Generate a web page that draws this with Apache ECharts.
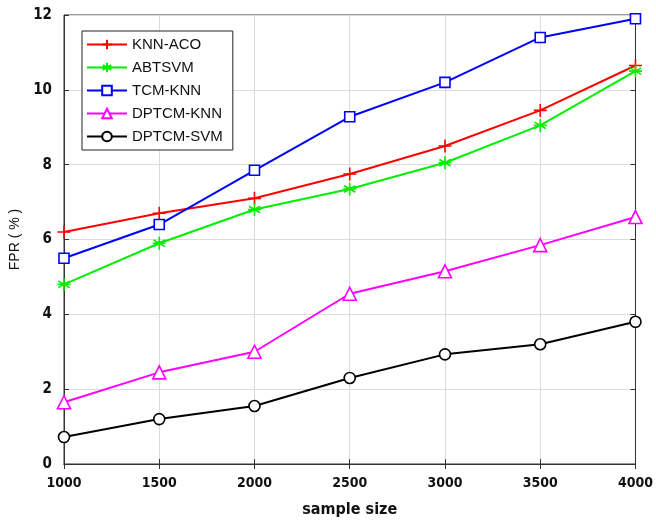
<!DOCTYPE html>
<html>
<head>
<meta charset="utf-8">
<script src="https://cdn.jsdelivr.net/npm/echarts@6/dist/echarts.min.js"></script>
<style>
  html, body { margin: 0; padding: 0; background: #fff; }
  #chart { width: 656px; height: 523px; }
</style>
</head>
<body>
<div id="chart"></div>
<script>
// Sample sizes on the x axis
const sampleSizes = [1000, 1500, 2000, 2500, 3000, 3500, 4000];

// FPR (%) for each method
const knnAco   = [6.2, 6.7, 7.1, 7.75, 8.5, 9.45, 10.65];
const abtsvm   = [4.8, 5.9, 6.8, 7.35, 8.05, 9.05, 10.5];
const tcmKnn   = [5.5, 6.4, 7.85, 9.28, 10.2, 11.4, 11.9];
const dptcmKnn = [1.65, 2.45, 3.0, 4.55, 5.15, 5.85, 6.6];
const dptcmSvm = [0.72, 1.2, 1.55, 2.3, 2.93, 3.2, 3.8];

const seriesNames = ['KNN-ACO', 'ABTSVM', 'TCM-KNN', 'DPTCM-KNN', 'DPTCM-SVM'];

const plusPath = 'path://M0,-1L0,1M-1,0L1,0';
const starPath = 'path://M0,-1L0,1M-0.87,-0.5L0.87,0.5M-0.87,0.5L0.87,-0.5M-1,0L1,0';

const tickFont = {
  fontFamily: '"DejaVu Sans Condensed", "Liberation Sans Narrow", sans-serif',
  fontWeight: 'bold',
  fontSize: 14,
  color: '#111'
};

function makeSeries(name, values, color, symbol, size, hollow) {
  return {
    name: name,
    type: 'line',
    data: sampleSizes.map((x, i) => [x, values[i]]),
    symbol: symbol,
    symbolSize: size,
    showAllSymbol: true,
    lineStyle: { color: color, width: 2 },
    itemStyle: {
      color: hollow ? '#fff' : color,
      borderColor: color,
      borderWidth: 1.6
    },
    emphasis: { disabled: true },
    animation: false,
    z: 3
  };
}

const chart = echarts.init(document.getElementById('chart'), null, { renderer: 'canvas' });

chart.setOption({
  backgroundColor: '#fff',
  animation: false,
  grid: {
    left: 64, right: 18, top: 15, bottom: 57,
    show: true, borderColor: '#333', borderWidth: 1
  },
  legend: {
    orient: 'vertical',
    left: 82, top: 31,
    itemWidth: 40, itemHeight: 12,
    itemGap: 8,
    padding: [6, 10, 6, 4],
    borderColor: '#222', borderWidth: 1,
    backgroundColor: '#fff',
    textStyle: { fontFamily: 'Liberation Sans, Arial, sans-serif', fontSize: 15, color: '#111' },
    data: seriesNames
  },
  xAxis: [{
    type: 'value',
    min: 1000, max: 4000, interval: 500,
    name: 'sample size',
    nameLocation: 'middle',
    nameGap: 38,
    nameTextStyle: Object.assign({}, tickFont, { fontSize: 16 }),
    axisLine: { show: true, lineStyle: { color: '#333' } },
    axisTick: { show: true, inside: true, length: 5, lineStyle: { color: '#333' } },
    axisLabel: Object.assign({ margin: 12, formatter: v => String(v) }, tickFont),
    splitLine: { show: true, lineStyle: { color: '#dcdcdc', width: 1 } }
  }, {
    type: 'value', position: 'top',
    min: 1000, max: 4000, interval: 500,
    axisLine: { show: true, lineStyle: { color: '#333' } },
    axisTick: { show: true, inside: true, length: 5, lineStyle: { color: '#333' } },
    axisLabel: { show: false },
    splitLine: { show: false }
  }],
  yAxis: [{
    type: 'value',
    min: 0, max: 12, interval: 2,
    name: 'FPR ( % )',
    nameLocation: 'middle',
    nameGap: 40,
    nameTextStyle: { fontFamily: 'Liberation Sans, Arial, sans-serif', fontSize: 14, color: '#111' },
    axisLine: { show: true, lineStyle: { color: '#333' } },
    axisTick: { show: true, inside: true, length: 5, lineStyle: { color: '#333' } },
    axisLabel: Object.assign({ margin: 12 }, tickFont, { fontSize: 15 }),
    splitLine: { show: true, lineStyle: { color: '#dcdcdc', width: 1 } }
  }, {
    type: 'value', position: 'right',
    min: 0, max: 12, interval: 2,
    axisLine: { show: true, lineStyle: { color: '#333' } },
    axisTick: { show: true, inside: true, length: 5, lineStyle: { color: '#333' } },
    axisLabel: { show: false },
    splitLine: { show: false }
  }],
  series: [
    makeSeries('KNN-ACO', knnAco, '#ff0000', plusPath, 13, false),
    makeSeries('ABTSVM', abtsvm, '#00ee00', starPath, 13, false),
    makeSeries('TCM-KNN', tcmKnn, '#0000ff', 'rect', 10, true),
    makeSeries('DPTCM-KNN', dptcmKnn, '#ff00ff', 'triangle', 13, true),
    makeSeries('DPTCM-SVM', dptcmSvm, '#000000', 'circle', 11, true)
  ]
});
</script>
</body>
</html>
